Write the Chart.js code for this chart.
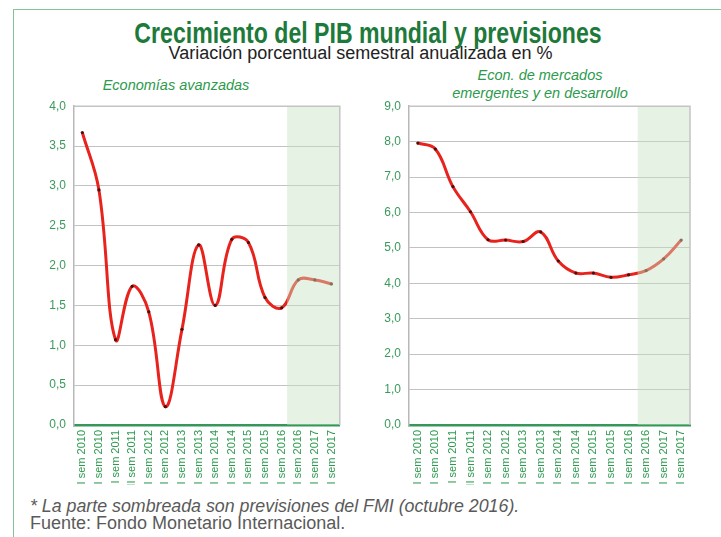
<!DOCTYPE html>
<html>
<head>
<meta charset="utf-8">
<script src="https://cdn.jsdelivr.net/npm/chart.js@4/dist/chart.umd.min.js"></script>
<style>
  html, body { margin: 0; padding: 0; background: #fff; }
  body { width: 721px; height: 537px; position: relative; overflow: hidden; font-family: "Liberation Sans", Arial, sans-serif; }
  .frame { position: absolute; left: 13px; top: 9px; width: 720px; height: 540px; border-left: 1.5px solid #86c394; border-top: 1.5px solid #86c394; }
  .title { position: absolute; left: 0; width: 736px; top: 16px; text-align: center; font-family: "Liberation Sans", Arial, sans-serif; font-weight: bold; font-size: 30px; color: #1d7a3a; transform: scaleX(0.77); transform-origin: 368px 0; white-space: nowrap; }
  .subtitle { position: absolute; left: 0; width: 721px; top: 43px; text-align: center; font-size: 18px; color: #222; }
  .panel { position: absolute; text-align: center; font-style: italic; font-size: 14.5px; color: #2c9a4c; line-height: 18px; }
  .note { position: absolute; left: 30px; font-size: 18px; color: #5a5a5a; white-space: nowrap; }
  .wrap { position: absolute; }
</style>
</head>
<body>
<div class="frame"></div>
<div class="title">Crecimiento del PIB mundial y previsiones</div>
<div class="subtitle">Variación porcentual semestral anualizada en %</div>
<div class="panel" style="left:76px; width:200px; top:76px;">Economías avanzadas</div>
<div class="panel" style="left:440px; width:200px; top:66px;">Econ. de mercados<br>emergentes y en desarrollo</div>

<div class="wrap" style="left:20px; top:91px; width:330px; height:394px;"><canvas id="avanzadas"></canvas></div>
<div class="wrap" style="left:360px; top:91px; width:340px; height:394px;"><canvas id="emergentes"></canvas></div>

<div class="note" style="top:496px; font-style: italic; font-size: 17.8px;">* La parte sombreada son previsiones del FMI (octubre 2016).</div>
<div class="note" style="top:513px;">Fuente: Fondo Monetario Internacional.</div>

<script>
// semestres
const semestres = [
  'I sem 2010', 'II sem 2010', 'I sem 2011', 'II sem 2011',
  'I sem 2012', 'II sem 2012', 'I sem 2013', 'II sem 2013',
  'I sem 2014', 'II sem 2014', 'I sem 2015', 'II sem 2015',
  'I sem 2016', 'II sem 2016', 'I sem 2017', 'II sem 2017'
];

// Economías avanzadas (% anualizado)
const avanzadas = [3.67, 2.95, 1.07, 1.74, 1.42, 0.23, 1.20, 2.26,
                   1.50, 2.33, 2.29, 1.60, 1.47, 1.82, 1.82, 1.77];

// Emergentes y en desarrollo
const emergentes = [7.96, 7.79, 6.73, 6.02, 5.23, 5.22, 5.18, 5.45,
                    4.63, 4.29, 4.29, 4.17, 4.24, 4.36, 4.69, 5.22];

// donde empieza la parte sombreada (previsiones), en unidades de categoria
const inicioPrevisionAv = 12.33;
const inicioPrevisionEm = 12.52;

const verde = '#34985a';

// sombreado de previsiones + marco gris del area
const sombreado = {
  id: 'sombreado',
  afterDatasetsDraw(chart, args, opts) {
    const { ctx, chartArea: a, scales: { x } } = chart;
    const x0 = x.getPixelForValue(opts.desde);
    ctx.save();
    ctx.fillStyle = 'rgba(200,228,196,0.45)';
    ctx.fillRect(x0, a.top, a.right - x0, a.bottom - a.top);
    ctx.strokeStyle = '#c4c4c4';
    ctx.lineWidth = 1.5;
    ctx.beginPath();
    ctx.moveTo(a.left, a.top);
    ctx.lineTo(a.right, a.top);
    ctx.lineTo(a.right, a.bottom);
    ctx.stroke();
    ctx.restore();
  }
};

function crearGrafico(id, datos, max, paso, anchoEje, desde) {
  const ctx = document.getElementById(id).getContext('2d');
  return new Chart(ctx, {
    type: 'line',
    data: {
      labels: semestres,
      datasets: [{
        data: datos,
        borderColor: '#e8231d',
        borderWidth: 3,
        tension: 0.4,
        pointRadius: 1.6,
        pointBackgroundColor: '#4a1010',
        pointBorderWidth: 0,
        fill: false
      }]
    },
    options: {
      responsive: true,
      maintainAspectRatio: false,
      animation: false,
      layout: { padding: { top: 10, right: 10, left: 0, bottom: 0 } },
      plugins: {
        legend: { display: false },
        tooltip: { enabled: false },
        sombreado: { desde: desde }
      },
      scales: {
        x: {
          offset: true,
          grid: { display: false, drawTicks: false },
          border: { color: verde, width: 2.5 },
          ticks: {
            autoSkip: false,
            maxRotation: 90,
            minRotation: 90,
            padding: 5,
            color: '#2e9a50',
            font: { family: 'Liberation Sans', size: 11 }
          },
          afterFit: s => { s.height = 60; }
        },
        y: {
          min: 0,
          max: max,
          grid: { color: '#c2c2c2', lineWidth: 1, drawTicks: false },
          border: { color: '#b8b8b8', width: 1.5 },
          ticks: {
            stepSize: paso,
            padding: 8,
            color: '#3a9a5a',
            font: { family: 'Liberation Sans', size: 12 },
            callback: v => v.toFixed(1).replace('.', ',')
          },
          afterFit: s => { s.width = anchoEje; }
        }
      }
    },
    plugins: [sombreado]
  });
}

crearGrafico('avanzadas', avanzadas, 4, 0.5, 54, inicioPrevisionAv);
crearGrafico('emergentes', emergentes, 9, 1, 49, inicioPrevisionEm);
</script>
</body>
</html>
